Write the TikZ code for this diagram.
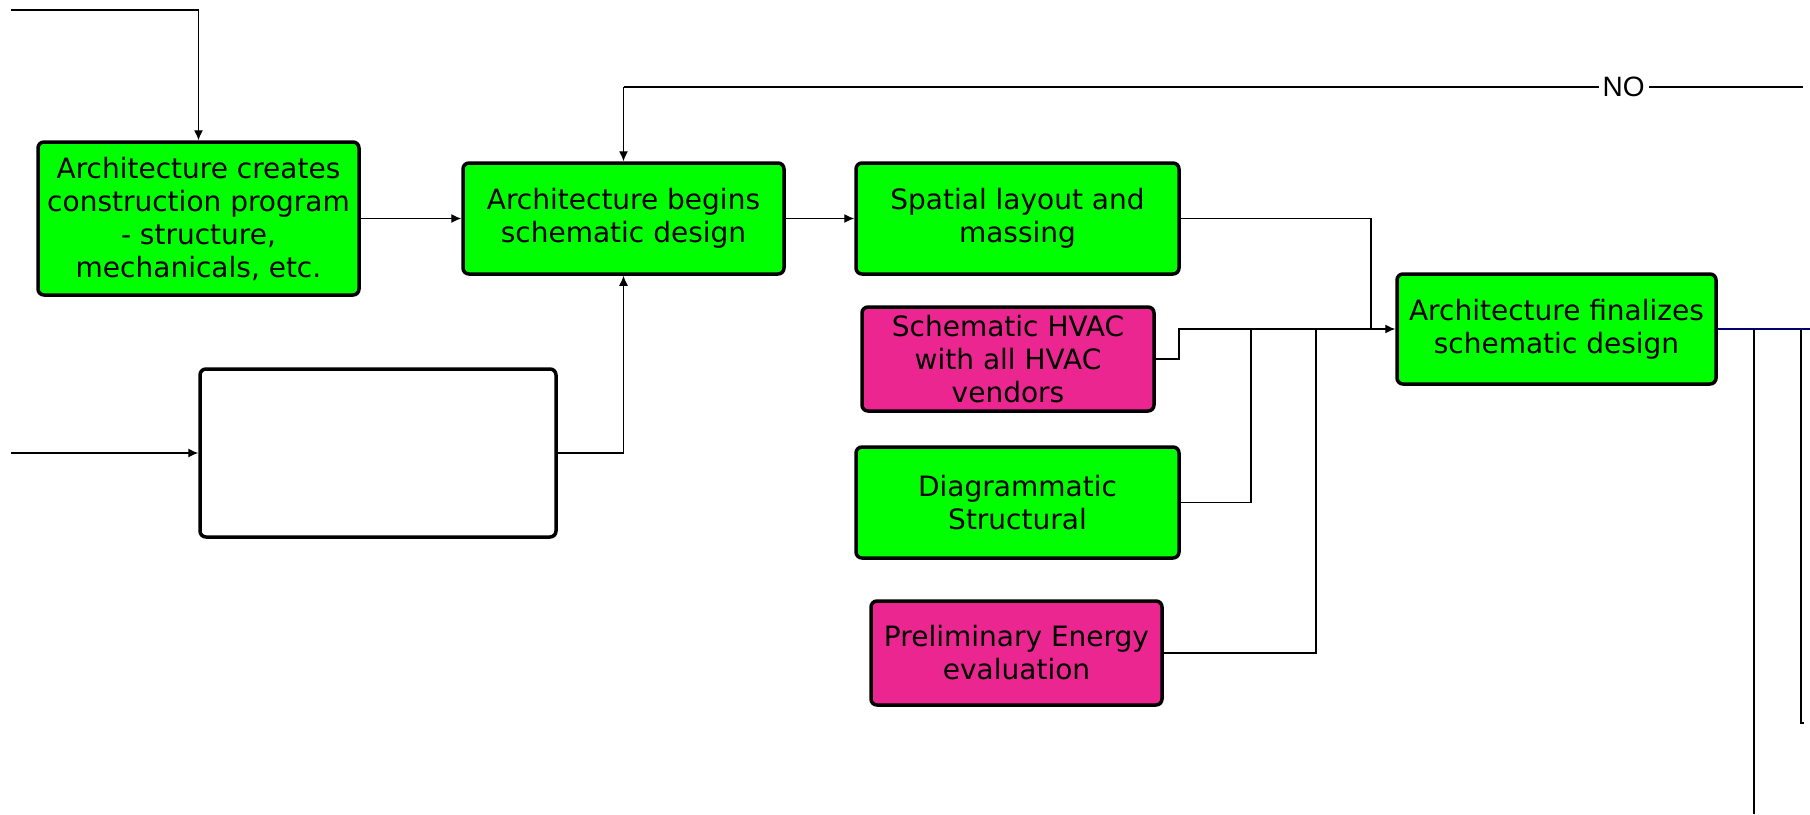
\documentclass[tikz,border=0pt]{standalone}
\usepackage{fontspec}
\setmainfont{DejaVu Sans}
\newfontfamily\labelfont{Liberation Sans}
\usetikzlibrary{arrows.meta}
\definecolor{stepgreen}{RGB}{0,255,0}
\definecolor{steppink}{RGB}{236,38,145}
\definecolor{busnavy}{RGB}{0,0,110}
\tikzset{
  stepbox/.style={draw=black, line width=3.5pt, rounded corners=6pt, align=center,
    inner sep=0pt, font=\fontsize{28}{33}\selectfont},
  greenbox/.style={stepbox, fill=stepgreen},
  pinkbox/.style={stepbox, fill=steppink},
  link/.style={draw=black, line width=1.3pt},
  arr/.style={link, -{Latex[length=10pt,width=9pt]}}
}
\begin{document}
\begin{tikzpicture}[x=1pt, y=-1pt]
\useasboundingbox (0,0) rectangle (1810,814);

% process boxes
\node[greenbox, minimum width=321pt, minimum height=153pt] (create) at (198.5,218.5)
  {Architecture creates\\construction program\\- structure,\\mechanicals, etc.};
\node[greenbox, minimum width=321pt, minimum height=111pt] (begin) at (623.5,218.5)
  {Architecture begins\\schematic design};
\node[greenbox, minimum width=323pt, minimum height=111pt] (spatial) at (1017.5,218.5)
  {Spatial layout and\\massing};
\node[pinkbox, minimum width=292pt, minimum height=104pt] (hvac) at (1008,359)
  {Schematic HVAC\\with all HVAC\\vendors};
\node[greenbox, minimum width=323pt, minimum height=111pt] (struct) at (1017.5,502.5)
  {Diagrammatic\\Structural};
\node[pinkbox, minimum width=291pt, minimum height=104pt] (energy) at (1016.5,653)
  {Preliminary Energy\\evaluation};
\node[greenbox, minimum width=319pt, minimum height=110pt] (final) at (1556.5,329)
  {Architecture finalizes\\schematic design};
\node[stepbox, fill=white, minimum width=356pt, minimum height=168pt] (blank) at (378,453) {};

% free ends and junctions
\coordinate (topIn) at (11,10);
\coordinate (leftIn) at (11,453);
\coordinate (noEnd) at (1803,87);
\coordinate (noTurn) at (623.5,87);
\coordinate (busHvac) at (1179,329);
\coordinate (busStruct) at (1251,329);
\coordinate (busEnergy) at (1316,329);
\coordinate (busSpatial) at (1371,329);
\coordinate (outEnd) at (1810,329);
\coordinate (dropA) at (1754,329);
\coordinate (dropAEnd) at (1754,814);
\coordinate (dropB) at (1801,329);
\coordinate (dropBEnd) at (1801,723);
\coordinate (dropBTick) at (1804,723);

% connectors
\draw[arr] (topIn) -| (create.north);
\draw[arr] (create.east) -- (begin.west);
\draw[arr] (begin.east) -- (spatial.west);
\draw[link] (noEnd) -- node[pos=0.152, fill=white, inner xsep=4pt, inner ysep=2pt,
  font=\labelfont\fontsize{28}{30}\selectfont] (nolabel) {NO} (noTurn);
\draw[arr] (noTurn) -- (begin.north);
\draw[arr] (leftIn) -- (blank.west);
\draw[arr] (blank.east) -| (begin.south);
\draw[arr] (hvac.east) -| (busHvac) -- (final.west);
\draw[link] (struct.east) -| (busStruct);
\draw[link] (energy.east) -| (busEnergy);
\draw[link] (spatial.east) -| (busSpatial);
\draw[draw=busnavy, line width=2.2pt] (final.east) -- (outEnd);
\draw[link] (dropA) -- (dropAEnd);
\draw[link] (dropB) -- (dropBEnd) -- (dropBTick);
\end{tikzpicture}
\end{document}
